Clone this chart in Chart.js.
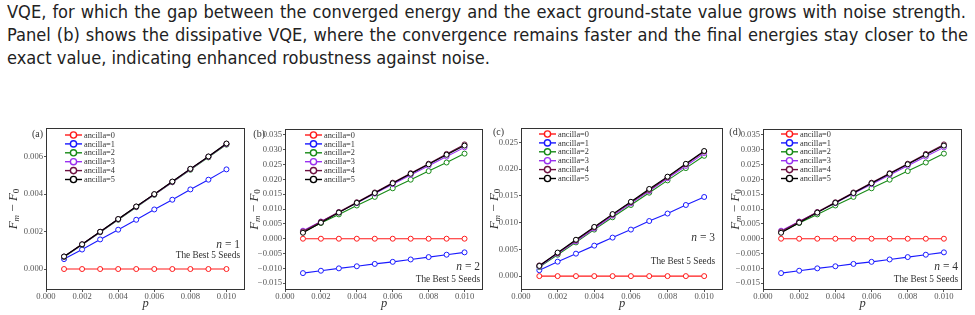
<!DOCTYPE html>
<html><head><meta charset="utf-8">
<script src="https://cdn.jsdelivr.net/npm/chart.js@4.4.1/dist/chart.umd.min.js"></script>
<style>
html,body{margin:0;padding:0;background:#fff;}
body{width:975px;height:315px;position:relative;overflow:hidden;}
.ln{position:absolute;left:7px;white-space:nowrap;font-family:"DejaVu Sans Condensed","DejaVu Sans",sans-serif;font-stretch:condensed;color:#222;line-height:20px;font-size:16px;}
.pn{position:absolute;top:118px;height:197px;}
</style></head><body>
<div class="ln" id="l1" style="top:2px">VQE, for which the gap between the converged energy and the exact ground-state value grows with noise strength.</div>
<div class="ln" id="l2" style="top:25px">Panel (b) shows the dissipative VQE, where the convergence remains faster and the final energies stay closer to the</div>
<div class="ln" id="l3" style="top:48px">exact value, indicating enhanced robustness against noise.</div>
<div class="pn" style="left:0;width:248px"><canvas id="ca"></canvas></div>
<div class="pn" style="left:248px;width:238px"><canvas id="cb"></canvas></div>
<div class="pn" style="left:486px;width:240px"><canvas id="cc"></canvas></div>
<div class="pn" style="left:726px;width:249px"><canvas id="cd"></canvas></div>
<script>
// ---------- data ----------
const pValues = [0.001,0.002,0.003,0.004,0.005,0.006,0.007,0.008,0.009,0.010];
const ancillaLabels = ['ancilla=0','ancilla=1','ancilla=2','ancilla=3','ancilla=4','ancilla=5'];
const xTicks = [0,0.002,0.004,0.006,0.008,0.010];
const yTicksA = [0,0.002,0.004,0.006];
const yTicksB = [-0.015,-0.010,-0.005,0,0.005,0.010,0.015,0.020,0.025,0.030,0.035];
const yTicksC = [0,0.005,0.010,0.015,0.020,0.025];
const yTicksD = [-0.015,-0.010,-0.005,0,0.005,0.010,0.015,0.020,0.025,0.030,0.035];

// (a) n = 1
const a_anc0 = [0,0,0,0,0,0,0,0,0,0];
const a_anc1 = [0.00053,0.00104,0.00158,0.00210,0.00263,0.00318,0.00370,0.00425,0.00477,0.00532];
const a_anc2 = [0.00064,0.00129,0.00196,0.00263,0.00330,0.00396,0.00463,0.00530,0.00596,0.00664];
const a_anc3 = [0.00066,0.00131,0.00198,0.00265,0.00332,0.00398,0.00465,0.00533,0.00599,0.00667];
const a_anc4 = [0.00066,0.00132,0.00199,0.00266,0.00333,0.00399,0.00466,0.00534,0.00600,0.00669];
const a_anc5 = [0.00067,0.00132,0.00199,0.00267,0.00334,0.00400,0.00467,0.00535,0.00601,0.00670];

// (b) n = 2
const b_anc0 = [0,0,0,0,0,0,0,0,0,0];
const b_anc1 = [-0.0116,-0.0108,-0.0100,-0.0093,-0.0085,-0.0078,-0.0070,-0.0062,-0.0054,-0.0046];
const b_anc2 = [0.0022,0.0053,0.0082,0.0112,0.0141,0.0170,0.0199,0.0228,0.0257,0.0287];
const b_anc3 = [0.0027,0.0058,0.0089,0.0120,0.0152,0.0184,0.0215,0.0246,0.0277,0.0308];
const b_anc4 = [0.0024,0.0057,0.0090,0.0123,0.0156,0.0189,0.0221,0.0253,0.0286,0.0318];
const b_anc5 = [0.0020,0.0054,0.0088,0.0121,0.0154,0.0187,0.0219,0.0251,0.0283,0.0314];

// (c) n = 3
const c_anc0 = [0,0,0,0,0,0,0,0,0,0];
const c_anc1 = [0.0011,0.0027,0.0042,0.0057,0.0072,0.0087,0.0103,0.0117,0.0133,0.0148];
const c_anc2 = [0.0017,0.0040,0.0063,0.0087,0.0110,0.0133,0.0156,0.0179,0.0202,0.0225];
const c_anc3 = [0.0018,0.0042,0.0065,0.0089,0.0113,0.0136,0.0159,0.0183,0.0206,0.0230];
const c_anc4 = [0.0020,0.0043,0.0067,0.0091,0.0115,0.0138,0.0161,0.0185,0.0209,0.0233];
const c_anc5 = [0.0019,0.0044,0.0068,0.0092,0.0116,0.0139,0.0163,0.0186,0.0210,0.0234];

// (d) n = 4
const d_anc0 = [0,0,0,0,0,0,0,0,0,0];
const d_anc1 = [-0.0116,-0.0108,-0.0100,-0.0093,-0.0085,-0.0078,-0.0070,-0.0062,-0.0054,-0.0046];
const d_anc2 = [0.0022,0.0053,0.0082,0.0112,0.0141,0.0170,0.0199,0.0228,0.0257,0.0287];
const d_anc3 = [0.0027,0.0058,0.0089,0.0120,0.0152,0.0184,0.0215,0.0246,0.0277,0.0308];
const d_anc4 = [0.0024,0.0057,0.0090,0.0123,0.0156,0.0189,0.0221,0.0253,0.0286,0.0318];
const d_anc5 = [0.0020,0.0054,0.0088,0.0121,0.0154,0.0187,0.0219,0.0251,0.0283,0.0314];

// ---------- styles ----------
const ancillaColors = ['#ff1a1a','#1a1aff','#178a17','#9a30f0','#6b1040','#000000'];
const SERIF = '"Liberation Serif","DejaVu Serif",serif';

// ---------- text fitting ----------
(function(){
  const l1=document.getElementById('l1'),l2=document.getElementById('l2'),l3=document.getElementById('l3');
  const w3=l3.getBoundingClientRect().width;
  const fs=16*483/w3;
  [l1,l2,l3].forEach(e=>e.style.fontSize=fs+'px');
  [[l1,959],[l2,961]].forEach(([e,t])=>{
    const w=e.getBoundingClientRect().width;
    const n=(e.textContent.match(/ /g)||[]).length;
    e.style.wordSpacing=((t-w)/n)+'px';
  });
})();

// ---------- decoration plugin ----------
function fmt(v){ if (Math.abs(v)<1e-12) v=0; return (v<0?'\u2212':'')+Math.abs(v).toFixed(3); }

function drawPieces(ctx,pieces,x,y,align){
  let total=0;
  pieces.forEach(p=>{ctx.font=p.f; p.w=ctx.measureText(p.t).width; total+=p.w;});
  let cx = align==='right'? x-total : (align==='center'? x-total/2 : x);
  pieces.forEach(p=>{ctx.font=p.f; ctx.fillText(p.t,cx,y+(p.dy||0)); cx+=p.w;});
}

const decor = {
  id:'decor',
  afterDraw(chart){
    const o=chart.options.plugins.decor; if(!o) return;
    const ctx=chart.ctx, a=chart.chartArea;
    const L=Math.round(a.left), R=Math.round(a.right), T=Math.round(a.top), B=Math.round(a.bottom);
    ctx.save();
    // frame
    ctx.strokeStyle='#333'; ctx.lineWidth=1;
    ctx.strokeRect(L+0.5,T+0.5,R-L-1,B-T-1);
    // legend
    chart.data.datasets.forEach((ds,i)=>{
      const y=T+o.legTop+i*8.9, x0=L+o.legDx;
      ctx.strokeStyle=ds.borderColor; ctx.lineWidth=1.4;
      ctx.beginPath(); ctx.moveTo(x0,y); ctx.lineTo(x0+17,y); ctx.stroke();
      ctx.beginPath(); ctx.arc(x0+8.5,y,3.1,0,Math.PI*2); ctx.fillStyle='#fff'; ctx.fill(); ctx.stroke();
      ctx.fillStyle='#333'; ctx.font='8.3px '+SERIF; ctx.textBaseline='middle'; ctx.textAlign='left';
      ctx.fillText(ds.label,x0+19,y+0.5);
    });
    // panel label
    ctx.fillStyle='#333'; ctx.font='10px '+SERIF; ctx.textAlign='right'; ctx.textBaseline='middle';
    ctx.fillText(o.panel,L+o.panDx,T+o.panDy);
    // annotations
    ctx.textAlign='left'; ctx.textBaseline='middle'; ctx.fillStyle='#333';
    drawPieces(ctx,[{t:'n',f:'italic 11.5px '+SERIF},{t:' = '+o.n,f:'11.5px '+SERIF}],R-o.annR,B+o.nDy,'right');
    drawPieces(ctx,[{t:'The Best 5 Seeds',f:'9.3px '+SERIF}],R-o.annR,B+o.bestDy,'right');
    // x title
    ctx.textBaseline='alphabetic';
    drawPieces(ctx,[{t:'p',f:'italic 12.5px '+SERIF}],(L+R)/2,B+17,'center');
    // y title
    ctx.translate(L+o.yTitleDx,(T+B)/2); ctx.rotate(-Math.PI/2);
    ctx.textBaseline='middle';
    drawPieces(ctx,[
      {t:'F',f:'italic 13px '+SERIF},
      {t:'m',f:'italic 9px '+SERIF,dy:3},
      {t:' \u2212 ',f:'13px '+SERIF},
      {t:'F',f:'italic 13px '+SERIF},
      {t:'0',f:'9px '+SERIF,dy:3}
    ],0,0,'center');
    ctx.restore();
  }
};
Chart.register(decor);

function makeChart(id, series, yTicks, yMin, yMax, cfg){
  const datasets = series.map((s,i)=>({
    label: ancillaLabels[i],
    data: pValues.map((p,k)=>({x:p,y:s[k]})),
    borderColor: ancillaColors[i],
    pointBorderColor: ancillaColors[i],
    pointBackgroundColor:'#fff',
    order: series.length-1-i
  }));
  const tickFont={family:SERIF,size:8.6};
  return new Chart(document.getElementById(id),{
    type:'line',
    data:{datasets},
    options:{
      animation:false,responsive:true,maintainAspectRatio:false,devicePixelRatio:1,
      layout:{padding:{left:0,right:cfg.padR,top:cfg.padT,bottom:0}},
      plugins:{legend:{display:false},tooltip:{enabled:false},decor:cfg},
      elements:{line:{borderWidth:1.1,tension:0},point:{radius:2.5,borderWidth:1,hoverRadius:2.5}},
      scales:{
        x:{type:'linear',min:0,max:0.011,
           afterFit:s=>{s.height=25;},
           afterBuildTicks:s=>{s.ticks=xTicks.map(v=>({value:v}));},
           ticks:{callback:fmt,font:tickFont,color:'#555',padding:0,maxRotation:0,autoSkip:false},
           grid:{display:true,drawOnChartArea:false,drawTicks:true,tickLength:2,color:'#555'},
           border:{display:false}},
        y:{type:'linear',min:yMin,max:yMax,
           afterFit:s=>{s.width=cfg.yW;},
           afterBuildTicks:s=>{s.ticks=yTicks.map(v=>({value:v}));},
           ticks:{callback:fmt,font:tickFont,color:'#555',padding:1,autoSkip:false},
           grid:{display:true,drawOnChartArea:false,drawTicks:true,tickLength:2,color:'#555'},
           border:{display:false}}
      }
    }
  });
}

makeChart('ca',[a_anc0,a_anc1,a_anc2,a_anc3,a_anc4,a_anc5],yTicksA,-0.00112,0.00753,
  {panel:'(a)',n:'1',yW:46,padR:3,padT:10,legDx:19,legTop:7,panDx:-3,panDy:6,annR:5,nDy:-45,bestDy:-34,yTitleDx:-32});
makeChart('cb',[b_anc0,b_anc1,b_anc2,b_anc3,b_anc4,b_anc5],yTicksB,-0.0173,0.0370,
  {panel:'(b)',n:'2',yW:37,padR:2,padT:11,legDx:20,legTop:6,panDx:-20,panDy:5,annR:3,nDy:-23,bestDy:-10,yTitleDx:-30});
makeChart('cc',[c_anc0,c_anc1,c_anc2,c_anc3,c_anc4,c_anc5],yTicksC,-0.0026,0.0277,
  {panel:'(c)',n:'3',yW:35,padR:2,padT:10,legDx:18,legTop:6,panDx:-17,panDy:4,annR:8,nDy:-52,bestDy:-28,yTitleDx:-26});
makeChart('cd',[d_anc0,d_anc1,d_anc2,d_anc3,d_anc4,d_anc5],yTicksD,-0.0173,0.0370,
  {panel:'(d)',n:'4',yW:37,padR:13,padT:11,legDx:18,legTop:5,panDx:-22,panDy:3,annR:4,nDy:-23,bestDy:-10,yTitleDx:-27});
</script>
</body></html>
